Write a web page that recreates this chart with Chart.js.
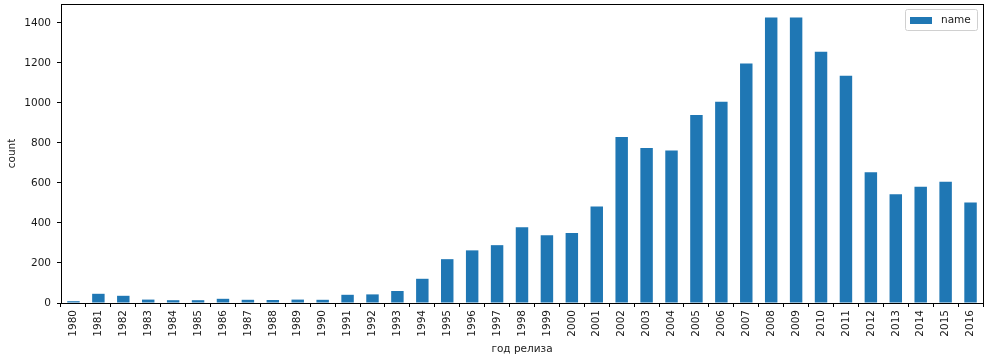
<!DOCTYPE html>
<html>
<head>
<meta charset="utf-8">
<script src="https://cdn.jsdelivr.net/npm/chart.js@4/dist/chart.umd.min.js"></script>
<style>
  html, body { margin: 0; padding: 0; background: #fff; }
  #wrap { width: 992px; height: 361px; position: relative; }
</style>
</head>
<body>
<div id="wrap"><canvas id="barChart"></canvas></div>
<script>
const years = ['1980','1981','1982','1983','1984','1985','1986','1987','1988','1989','1990',
    '1991','1992','1993','1994','1995','1996','1997','1998','1999','2000','2001','2002','2003',
    '2004','2005','2006','2007','2008','2009','2010','2011','2012','2013','2014','2015','2016'];
const counts = [9, 46, 36, 17, 14, 14, 21, 16, 15, 17, 16,
    41, 43, 60, 121, 219, 263, 289, 379, 338, 350, 482, 829, 775,
    762, 939, 1006, 1197, 1427, 1426, 1255, 1136, 653, 544, 581, 606, 502];
const seriesName = 'name';
const yMax = 1494;

const font = { family: 'DejaVu Sans', size: 10.5 };
const blue = '#1f77b4';
const textColor = '#1a1a1a';

// cadre complet + légende dans la zone du graphe (style matplotlib)
const framePlugin = {
    id: 'frame',
    afterDraw(chart) {
        const { ctx, chartArea: a } = chart;
        ctx.save();
        ctx.strokeStyle = '#000';
        ctx.lineWidth = 1;
        ctx.strokeRect(Math.round(a.left) + 0.5, Math.round(a.top) + 0.5,
            Math.round(a.right - a.left), Math.round(a.bottom - a.top));

        // légende
        const bx = a.right - 78, by = a.top + 5, bw = 72, bh = 21;
        ctx.fillStyle = 'rgba(255,255,255,0.8)';
        ctx.strokeStyle = '#d0d0d0';
        ctx.beginPath();
        ctx.roundRect(bx + 0.5, by + 0.5, bw, bh, 2);
        ctx.fill();
        ctx.stroke();
        ctx.fillStyle = blue;
        ctx.fillRect(bx + 5, by + 8, 22, 7);
        ctx.fillStyle = textColor;
        ctx.font = '10.5px "DejaVu Sans"';
        ctx.textBaseline = 'middle';
        ctx.fillText(seriesName, bx + 36, by + 11.5);
        ctx.restore();
    }
};

const ctxBar = document.getElementById('barChart').getContext('2d');
const barChart = new Chart(ctxBar, {
    type: 'bar',
    data: {
        labels: years,
        datasets: [{
            label: seriesName,
            data: counts,
            backgroundColor: blue,
            borderWidth: 0,
            categoryPercentage: 1,
            barPercentage: 0.5
        }]
    },
    options: {
        responsive: true,
        maintainAspectRatio: false,
        animation: false,
        layout: { padding: { left: 0, right: 9, top: 4, bottom: 0 } },
        plugins: {
            legend: { display: false },
            tooltip: { enabled: false }
        },
        scales: {
            x: {
                grid: { drawOnChartArea: false, color: '#000', tickLength: 4, tickWidth: 1 },
                border: { color: '#000' },
                ticks: { color: textColor, font, minRotation: 90, maxRotation: 90, padding: 3, autoSkip: false },
                title: { display: true, text: 'год релиза', color: textColor, font, padding: { top: 2, bottom: 5 } },
                afterFit(scale) { scale.height = 58; scale.paddingLeft = 0; scale.paddingRight = 0; }
            },
            y: {
                min: 0,
                max: yMax,
                grid: { drawOnChartArea: false, color: '#000', tickLength: 4, tickWidth: 1 },
                border: { color: '#000' },
                ticks: { color: textColor, font, stepSize: 200, includeBounds: false, padding: 6,
                    callback: v => String(v) },
                title: { display: true, text: 'count', color: textColor, font, padding: { top: 6, bottom: 0 } },
                afterFit(scale) { scale.width = 61; scale.paddingTop = 0; scale.paddingBottom = 0; }
            }
        }
    },
    plugins: [framePlugin]
});
</script>
</body>
</html>
